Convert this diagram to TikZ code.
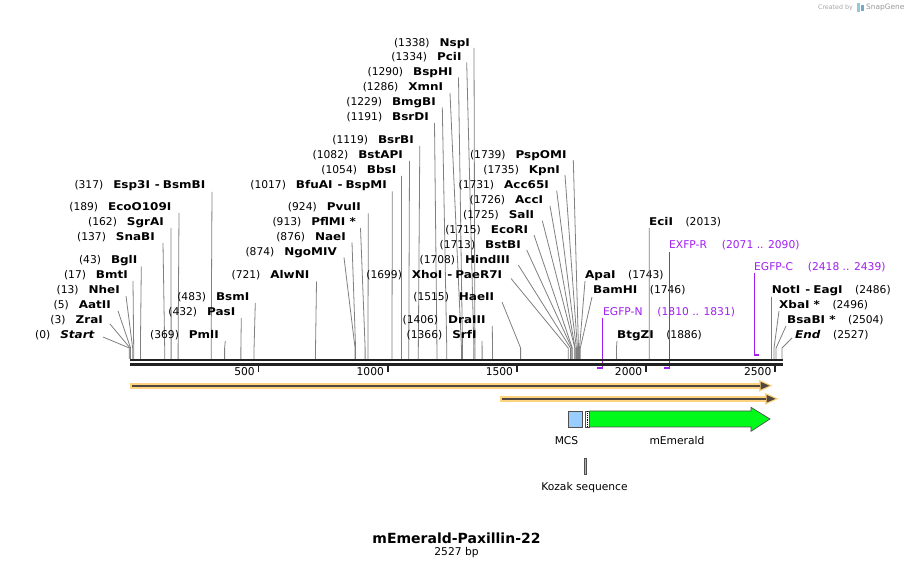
\documentclass[tikz,border=0pt]{standalone}
\usepackage{fontspec}
\setmainfont{DejaVu Sans}[BoldFeatures={FakeStretch=1.12},BoldItalicFeatures={FakeStretch=1.12}]
\newfontfamily\titlefont{DejaVu Sans}
\definecolor{bbcol}{RGB}{34,34,34}
\definecolor{sitecol}{RGB}{128,128,128}
\definecolor{primcol}{RGB}{160,32,240}
\definecolor{halocol}{RGB}{255,210,128}
\definecolor{darkfeat}{RGB}{80,72,62}
\definecolor{gfpgreen}{RGB}{0,250,25}
\definecolor{mcsblue}{RGB}{153,204,255}
\definecolor{edgecol}{RGB}{80,80,80}
\newcommand\lt[2]{(#1)\hspace{10pt}\textbf{#2}}
\newcommand\rt[2]{\textbf{#1}\hspace{12.5pt}(#2)}
% left-labelled site: id, pos, text, endx, cy, xs, ys
\newcommand\lsite[7]{%
  \node[lbl,anchor=east] (L#1) at (#4,#5) {#3};
  \coordinate (S#1) at (#6,#7);
  \coordinate (K#1) at ({129.3+0.2583*#2},348);
  \coordinate (B#1) at ({129.3+0.2583*#2},359);
  \draw[siteline] (S#1) -- (K#1) -- (B#1);}
% right-labelled site: id, pos, text, startx, cy, xs, ys
\newcommand\rsite[7]{%
  \node[lbl,anchor=west] (L#1) at (#4,#5) {#3};
  \coordinate (S#1) at (#6,#7);
  \coordinate (K#1) at ({129.3+0.2583*#2},348);
  \coordinate (B#1) at ({129.3+0.2583*#2},359);
  \draw[siteline] (S#1) -- (K#1) -- (B#1);}
\newcommand\tickmark[1]{%
  \coordinate (T#1a) at ({129.3+0.2583*#1},365);
  \coordinate (T#1b) at ({129.3+0.2583*#1},372.5);
  \draw[tickline] (T#1a) -- (T#1b);
  \node[lbl,anchor=east] (TL#1) at ({129.3+0.2583*#1-3.5},372) {#1};}
\begin{document}
\begin{tikzpicture}[x=1pt,y=-1pt,
  lbl/.style={inner sep=0pt,font=\fontsize{10.7}{12}\selectfont,text height=7.6pt,text depth=0pt},
  plbl/.style={lbl,text=primcol},
  siteline/.style={draw=sitecol,line width=0.8pt},
  tickline/.style={draw=bbcol,line width=1.8pt},
  prim/.style={draw=primcol,line width=0.9pt},
  primbar/.style={draw=primcol,line width=2pt},
  halo/.style={draw=halocol,line width=6pt},
  darkline/.style={draw=darkfeat,line width=1.7pt},
  featlbl/.style={inner sep=0pt,font=\fontsize{10.7}{12}\selectfont}]
\useasboundingbox (0,0) rectangle (914,569);
\fill[white] (0,0) rectangle (914,569);

% watermark
\node[inner sep=0pt,font=\fontsize{6.3}{7}\selectfont,text=gray!70,anchor=east] (wm1) at (853,8) {Created by};
\fill[color={rgb,255:red,150;green,200;blue,220}] (857,3.5) rectangle (860,12.5);
\fill[color={rgb,255:red,120;green,170;blue,200}] (860.5,5) rectangle (863.5,11);
\node[inner sep=0pt,font=\fontsize{7.4}{8}\selectfont,text=gray!80,anchor=west] (wm2) at (866,8) {SnapGene};

% left cluster
\lsite{start}{0}{\lt{0}{\textit{Start}}}{95}{335}{103}{337}
\lsite{zra}{3}{\lt{3}{ZraI}}{103}{320}{110}{324}
\lsite{aat}{5}{\lt{5}{AatII}}{111}{305}{118}{311}
\lsite{nhe}{13}{\lt{13}{NheI}}{120}{289.5}{126}{296}
\lsite{bmt}{17}{\lt{17}{BmtI}}{128}{274.5}{133}{281}
\lsite{bgl}{43}{\lt{43}{BglI}}{137.5}{259.5}{141.3}{266.5}
\lsite{sna}{137}{\lt{137}{SnaBI}}{155}{237}{163}{243}
\lsite{sgr}{162}{\lt{162}{SgrAI}}{164}{222}{171}{228}
\lsite{eco}{189}{\lt{189}{EcoO109I}}{171.5}{207}{179}{213}
\lsite{esp}{317}{\lt{317}{Esp3I\hspace{5pt}-\hspace{3pt}BsmBI}}{205.5}{185}{212}{192}
\lsite{pml}{369}{\lt{369}{PmlI}}{219}{335}{225.3}{341}
\lsite{pas}{432}{\lt{432}{PasI}}{235.5}{312}{241.3}{318}
\lsite{bsm}{483}{\lt{483}{BsmI}}{249.5}{297}{255.3}{303}
\lsite{alw}{721}{\lt{721}{AlwNI}}{309.5}{275}{316.5}{281.5}
\lsite{ngo}{874}{\lt{874}{NgoMIV}}{337}{252}{344}{257.5}
\lsite{nae}{876}{\lt{876}{NaeI}}{346}{237}{352}{242.5}
\lsite{pfl}{913}{\lt{913}{PflMI *}}{356}{222}{360.5}{228}
\lsite{pvu}{924}{\lt{924}{PvuII}}{361}{207}{368.3}{213.5}
\lsite{bfu}{1017}{\lt{1017}{BfuAI\hspace{5pt}-\hspace{3pt}BspMI}}{387}{185}{392.3}{191.5}
\lsite{bbs}{1054}{\lt{1054}{BbsI}}{396.5}{170}{401.5}{176}
\lsite{bstap}{1082}{\lt{1082}{BstAPI}}{403}{155}{409.5}{161}
\lsite{bsrb}{1119}{\lt{1119}{BsrBI}}{414}{140}{419.8}{146}
\lsite{bsrd}{1191}{\lt{1191}{BsrDI}}{429}{117}{434.5}{123}
\lsite{bmg}{1229}{\lt{1229}{BmgBI}}{436}{102}{442.3}{107.5}
\lsite{xmn}{1286}{\lt{1286}{XmnI}}{443.3}{87}{450}{93}
\lsite{bsph}{1290}{\lt{1290}{BspHI}}{452.7}{72}{458.5}{77.5}
\lsite{pci}{1334}{\lt{1334}{PciI}}{461.7}{57}{466.7}{62.5}
\lsite{nsp}{1338}{\lt{1338}{NspI}}{470}{42.5}{474}{48}

% middle cluster
\lsite{srf}{1366}{\lt{1366}{SrfI}}{476.7}{335}{482}{341}
\lsite{dra}{1406}{\lt{1406}{DraIII}}{485.7}{320}{492.3}{326}
\lsite{hae}{1515}{\lt{1515}{HaeII}}{494.3}{297}{502}{302}
\lsite{xho}{1699}{\lt{1699}{XhoI\hspace{5pt}-\hspace{3pt}PaeR7I}}{502.3}{275}{511}{278.5}
\lsite{hind}{1708}{\lt{1708}{HindIII}}{510}{259.5}{518.3}{265}
\lsite{bstb}{1713}{\lt{1713}{BstBI}}{521}{244.5}{526.7}{250}
\lsite{ecor}{1715}{\lt{1715}{EcoRI}}{528.3}{230}{534}{235}
\lsite{sal}{1725}{\lt{1725}{SalI}}{534.3}{215}{542.3}{220.7}
\lsite{acc}{1726}{\lt{1726}{AccI}}{543.3}{200}{550}{206}
\lsite{acc65}{1731}{\lt{1731}{Acc65I}}{549}{184.5}{556.7}{190.7}
\lsite{kpn}{1735}{\lt{1735}{KpnI}}{560}{170}{565}{175}
\lsite{psp}{1739}{\lt{1739}{PspOMI}}{566.7}{155}{573.3}{160}

% right labels
\rsite{apa}{1743}{\rt{ApaI}{1743}}{585}{275}{585}{281}
\rsite{bam}{1746}{\rt{BamHI}{1746}}{593}{290}{592}{297}
\rsite{btg}{1886}{\rt{BtgZI}{1886}}{617}{335}{617}{341}
\rsite{eci}{2013}{\rt{EciI}{2013}}{649}{222}{649.3}{228}
\rsite{not}{2486}{\rt{NotI\hspace{5pt}-\hspace{3pt}EagI}{2486}}{771.7}{290}{771.5}{297}
\rsite{xba}{2496}{\rt{XbaI *}{2496}}{779}{305}{779}{311}
\rsite{bsab}{2504}{\rt{BsaBI *}{2504}}{787}{320}{786}{326}
\rsite{endd}{2527}{\rt{\textit{End}}{2527}}{795}{335}{792}{338}

% primers
\node[plbl,anchor=west] (PN) at (603,312) {EGFP-N\hspace{15pt}(1810 .. 1831)};
\coordinate (PNs) at (602.7,318); \coordinate (PNb) at (602.7,368.3); \coordinate (PNe) at (596.8,368.3);
\draw[prim] (PNs) -- (PNb); \draw[primbar] (PNe) -- ([xshift=0.45pt]PNb);
\node[plbl,anchor=west] (PR) at (669,245) {EXFP-R\hspace{15pt}(2071 .. 2090)};
\coordinate (PRs) at (669.2,252); \coordinate (PRb) at (669.2,368.3); \coordinate (PRe) at (664.2,368.3);
\draw[prim] (PRs) -- (PRb); \draw[primbar] (PRe) -- ([xshift=0.45pt]PRb);
\node[plbl,anchor=west] (PC) at (754,267) {EGFP-C\hspace{15pt}(2418 .. 2439)};
\coordinate (PCs) at (754,273); \coordinate (PCb) at (754,355.5); \coordinate (PCe) at (759.3,355.5);
\draw[prim] (PCs) -- (PCb); \draw[primbar] ([xshift=-0.45pt]PCb) -- (PCe);

% backbone
\coordinate (bb1a) at (130,360.3); \coordinate (bb1b) at (783,360.3);
\coordinate (bb2a) at (130,364.2); \coordinate (bb2b) at (783,364.2);
\draw[draw=bbcol,line width=2pt] (bb1a) -- (bb1b);
\draw[draw=bbcol,line width=2.8pt] (bb2a) -- (bb2b);
\tickmark{500}\tickmark{1000}\tickmark{1500}\tickmark{2000}\tickmark{2500}

% orange features
\coordinate (f1a) at (130,385.7); \coordinate (f1b) at (764,385.7); \coordinate (f1t) at (769.5,385.7);
\draw[halo] (f1a) -- (f1b);
\fill[halocol] (759,379.7) -- (772.5,385.7) -- (759,391.7) -- cycle;
\draw[darkline] ([xshift=1.5pt]f1a) -- ([xshift=-4pt]f1b);
\fill[darkfeat] (760.5,381.8) -- (f1t) -- (760.5,389.6) -- cycle;

\coordinate (f2a) at (500,398.8); \coordinate (f2b) at (770,398.8); \coordinate (f2t) at (775.5,398.8);
\draw[halo] (f2a) -- (f2b);
\fill[halocol] (765,392.8) -- (778.5,398.8) -- (765,404.8) -- cycle;
\draw[darkline] ([xshift=1.5pt]f2a) -- ([xshift=-4pt]f2b);
\fill[darkfeat] (766.5,394.9) -- (f2t) -- (766.5,402.7) -- cycle;

% MCS and mEmerald
\node[draw=edgecol,fill=mcsblue,line width=0.7pt,minimum width=14pt,minimum height=16pt,inner sep=0pt] (mcs) at (575.5,419) {};
\node[featlbl] (mcsl) at (566.5,440.5) {MCS};
\filldraw[draw=edgecol,fill=white,line width=0.6pt] (585.4,411) rectangle (589.6,427);
\draw[black,line width=0.8pt,dash pattern=on 0.9pt off 0.9pt] (587.5,411.5) -- (587.5,426.5);
\filldraw[draw=edgecol,fill=gfpgreen,line width=0.7pt] (589.6,411) -- (751,411) -- (751,407.3) -- (770,419) -- (751,431.3) -- (751,427) -- (589.6,427) -- cycle;
\node[featlbl] (meml) at (677,440.5) {mEmerald};

% Kozak
\filldraw[draw=edgecol,fill=gray!60,line width=0.5pt] (584.4,458.3) rectangle (586.6,474);
\node[featlbl] (koz) at (584.5,488) {Kozak sequence};

% title
\node[inner sep=0pt,font=\fontsize{14}{16}\titlefont\bfseries] (title) at (456.5,538) {mEmerald-Paxillin-22};
\node[inner sep=0pt,font=\fontsize{10.7}{12}\selectfont] (len) at (456.5,553) {2527 bp};
\end{tikzpicture}
\end{document}
